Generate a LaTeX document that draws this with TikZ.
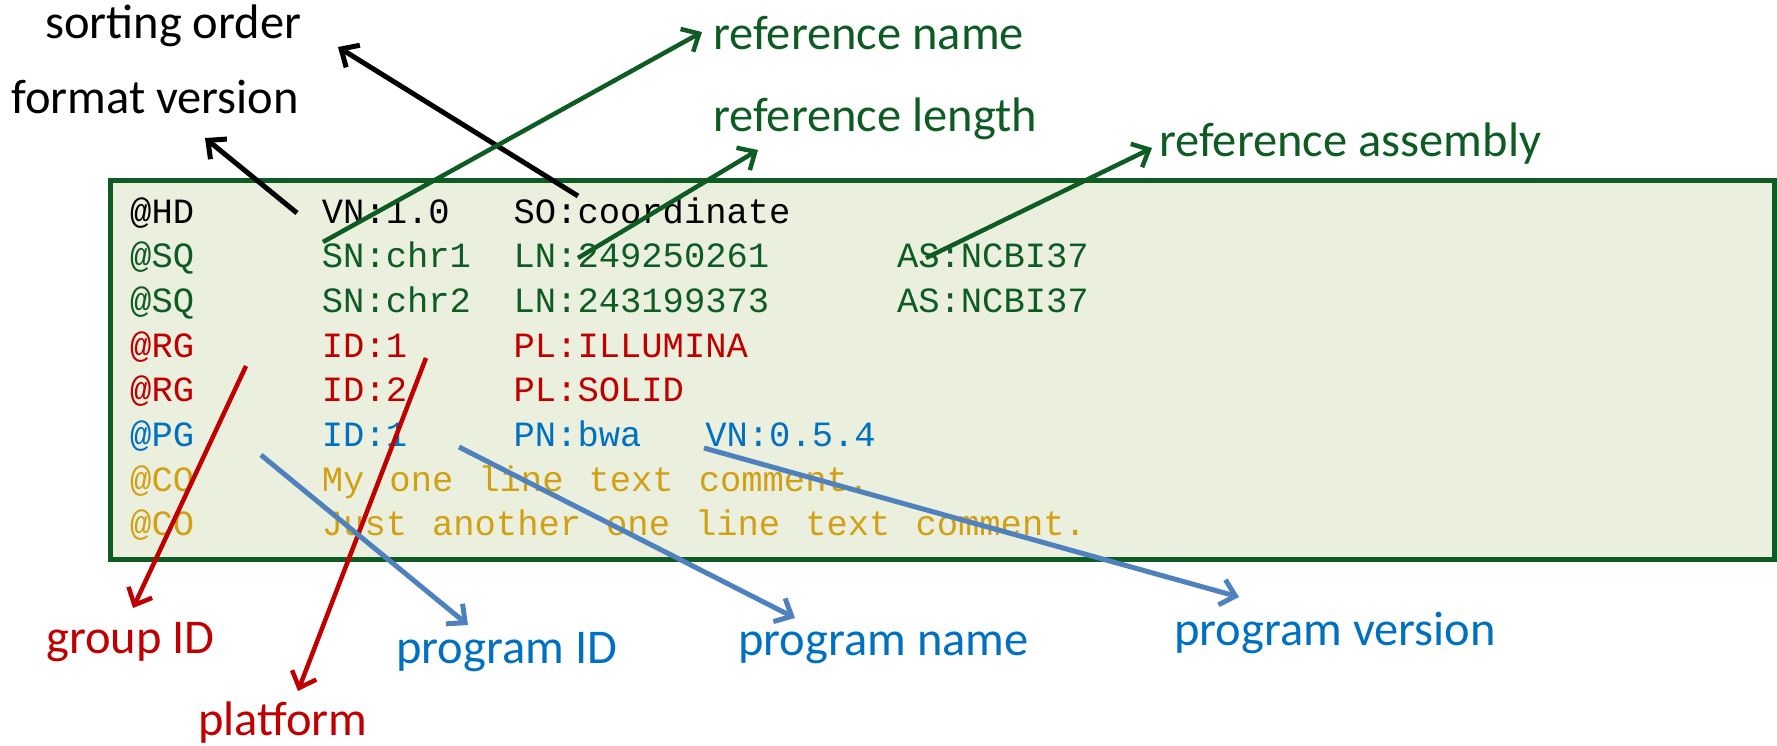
\documentclass[tikz,border=0pt]{standalone}
\usepackage{fontspec}
\setmainfont{Carlito}
\newfontfamily\monof{Liberation Mono}
\usetikzlibrary{arrows.meta}
\definecolor{dgreen}{RGB}{14,92,36}
\definecolor{boxfill}{RGB}{235,240,222}
\definecolor{dred}{RGB}{192,0,0}
\definecolor{lblue}{RGB}{0,112,192}
\definecolor{ablue}{RGB}{79,129,189}
\definecolor{gold}{RGB}{210,160,20}
\begin{document}
\begin{tikzpicture}[x=1pt,y=-1pt,
  lbl/.style={anchor=base west, inner sep=0pt, font=\fontsize{48.5}{50}\selectfont},
  mono/.style={anchor=base west, inner sep=0pt, font=\monof\fontsize{35.5}{40}\selectfont},
  arr/.style={line width=4.5pt, -{Straight Barb[length=14pt,width=26pt]}},
  barr/.style={arr, line width=5pt},
]
\useasboundingbox (0,0) rectangle (1777,745);
% box
\node[draw=dgreen, fill=boxfill, line width=4.5pt, anchor=north west,
      minimum width=1664pt, minimum height=379pt, inner sep=0pt] (box) at (108,178) {};
% text rows
\def\cw{21.3}
\node[mono, text=black] (r0a) at (130,223) {@HD};
\node[mono, text=black] (r0b) at (130+9*\cw,223) {VN:1.0};
\node[mono, text=black] (r0c) at (130+18*\cw,223) {SO:coordinate};
\node[mono, text=dgreen] (r1a) at (130,267.65) {@SQ};
\node[mono, text=dgreen] (r1b) at (130+9*\cw,267.65) {SN:chr1};
\node[mono, text=dgreen] (r1c) at (130+18*\cw,267.65) {LN:249250261};
\node[mono, text=dgreen] (r1d) at (130+36*\cw,267.65) {AS:NCBI37};
\node[mono, text=dgreen] (r2a) at (130,312.3) {@SQ};
\node[mono, text=dgreen] (r2b) at (130+9*\cw,312.3) {SN:chr2};
\node[mono, text=dgreen] (r2c) at (130+18*\cw,312.3) {LN:243199373};
\node[mono, text=dgreen] (r2d) at (130+36*\cw,312.3) {AS:NCBI37};
\node[mono, text=dred] (r3a) at (130,357) {@RG};
\node[mono, text=dred] (r3b) at (130+9*\cw,357) {ID:1};
\node[mono, text=dred] (r3c) at (130+18*\cw,357) {PL:ILLUMINA};
\node[mono, text=dred] (r4a) at (130,401.6) {@RG};
\node[mono, text=dred] (r4b) at (130+9*\cw,401.6) {ID:2};
\node[mono, text=dred] (r4c) at (130+18*\cw,401.6) {PL:SOLID};
\node[mono, text=lblue] (r5a) at (130,446.3) {@PG};
\node[mono, text=lblue] (r5b) at (130+9*\cw,446.3) {ID:1};
\node[mono, text=lblue] (r5c) at (130+18*\cw,446.3) {PN:bwa};
\node[mono, text=lblue] (r5d) at (130+27*\cw,446.3) {VN:0.5.4};
\node[mono, text=gold] (r6a) at (130,491) {@CO};
\node[mono, text=gold] (r6b) at (130+9*\cw,491) {\spaceskip=25pt My one line text comment.};
\node[mono, text=gold] (r7a) at (130,535.6) {@CO};
\node[mono, text=gold] (r7b) at (130+9*\cw,535.6) {\spaceskip=25pt Just another one line text comment.};
% labels
\node[lbl, text=black] (so) at (45,38) {sorting order};
\node[lbl, text=black] (fv) at (11,113) {format version};
\node[lbl, text=dgreen] (rn) at (713,49) {reference name};
\node[lbl, text=dgreen] (rl) at (713,131) {reference length};
\node[lbl, text=dgreen] (ra) at (1159,156) {reference assembly};
\node[lbl, text=dred] (gid) at (46,653) {group ID};
\node[lbl, text=dred] (pl) at (198,735) {platform};
\node[lbl, text=lblue] (pid) at (396,663) {program ID};
\node[lbl, text=lblue] (pn) at (738,655) {program name};
\node[lbl, text=lblue] (pv) at (1174,645) {program version};
% arrow end points
\coordinate (fvT) at (297,213); \coordinate (fvH) at (205,138);
\coordinate (soT) at (578,196); \coordinate (soH) at (338,47);
\coordinate (rnT) at (323,242); \coordinate (rnH) at (702,32);
\coordinate (rlT) at (578,258); \coordinate (rlH) at (758,150);
\coordinate (raT) at (926,258); \coordinate (raH) at (1152,148);
\coordinate (gidT) at (246,366); \coordinate (gidH) at (133,608);
\coordinate (plT) at (426,358); \coordinate (plH) at (298,691);
\coordinate (pidT) at (261,455); \coordinate (pidH) at (468,625);
\coordinate (pnT) at (459,447); \coordinate (pnH) at (795,618);
\coordinate (pvT) at (704,448); \coordinate (pvH) at (1239,597);
% arrows
\draw[barr, black] (fvT) -- (fvH);
\draw[barr, black] (soT) -- (soH);
\draw[arr, dgreen] (rnT) -- (rnH);
\draw[arr, dgreen] (rlT) -- (rlH);
\draw[arr, dgreen] (raT) -- (raH);
\draw[arr, dred] (gidT) -- (gidH);
\draw[arr, dred] (plT) -- (plH);
\draw[barr, ablue] (pidT) -- (pidH);
\draw[barr, ablue] (pnT) -- (pnH);
\draw[barr, ablue] (pvT) -- (pvH);
\end{tikzpicture}
\end{document}
